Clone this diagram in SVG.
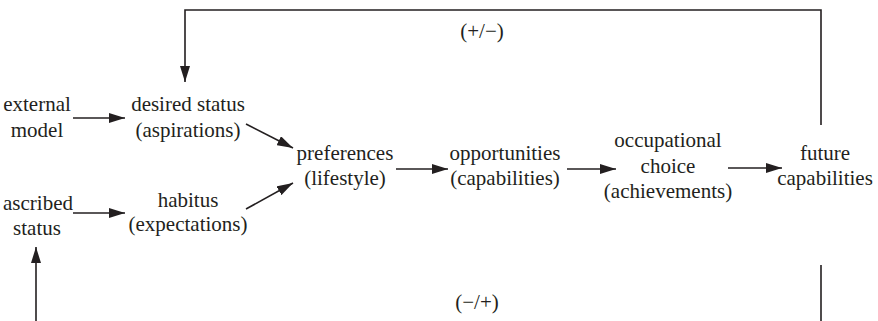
<svg xmlns="http://www.w3.org/2000/svg" width="878" height="321" viewBox="0 0 878 321">
<defs>
<marker id="ah" viewBox="0 0 16 10" refX="16" refY="5" markerWidth="16" markerHeight="10" markerUnits="userSpaceOnUse" orient="auto">
<path d="M0,0 L16,5 L0,10 Z" fill="#231f20"/>
</marker>
</defs>
<rect width="878" height="321" fill="#fff"/>
<g id="connectors" stroke="#231f20" stroke-width="1.6" fill="none">
<path d="M821,125 V10 H185 V82" marker-end="url(#ah)"/>
<path d="M821,265 V321"/>
<path d="M36,321 V247" marker-end="url(#ah)"/>
<path d="M73,118 H125" marker-end="url(#ah)"/>
<path d="M73,213 H125" marker-end="url(#ah)"/>
<path d="M246,124 L293,148" marker-end="url(#ah)"/>
<path d="M246,209 L293,183" marker-end="url(#ah)"/>
<path d="M396,169 H448" marker-end="url(#ah)"/>
<path d="M567,169 H616" marker-end="url(#ah)"/>
<path d="M728,168 H782" marker-end="url(#ah)"/>
</g>
<g id="labels" fill="#231f20" text-anchor="middle">
<text x="482" y="38" font-family="Liberation Serif" font-size="21" style="font-family:'Liberation Serif'!important">(+/−)</text>
<text x="477" y="309" font-family="Liberation Serif" font-size="21" style="font-family:'Liberation Serif'!important">(−/+)</text>
</g>
<g id="external" fill="#231f20" text-anchor="middle"><text x="37" y="111" font-family="Liberation Serif" font-size="21" style="font-family:'Liberation Serif'!important">external</text><text x="37" y="137" font-family="Liberation Serif" font-size="21" style="font-family:'Liberation Serif'!important">model</text></g>
<g id="desired" fill="#231f20" text-anchor="middle"><text x="188" y="111" font-family="Liberation Serif" font-size="21" style="font-family:'Liberation Serif'!important">desired status</text><text x="188" y="137" font-family="Liberation Serif" font-size="21" style="font-family:'Liberation Serif'!important">(aspirations)</text></g>
<g id="ascribed" fill="#231f20" text-anchor="middle"><text x="38" y="210" font-family="Liberation Serif" font-size="21" style="font-family:'Liberation Serif'!important">ascribed</text><text x="37" y="235" font-family="Liberation Serif" font-size="21" style="font-family:'Liberation Serif'!important">status</text></g>
<g id="habitus" fill="#231f20" text-anchor="middle"><text x="188" y="207" font-family="Liberation Serif" font-size="21" style="font-family:'Liberation Serif'!important">habitus</text><text x="188" y="231" font-family="Liberation Serif" font-size="21" style="font-family:'Liberation Serif'!important">(expectations)</text></g>
<g id="preferences" fill="#231f20" text-anchor="middle"><text x="345" y="160" font-family="Liberation Serif" font-size="21" style="font-family:'Liberation Serif'!important">preferences</text><text x="345" y="185" font-family="Liberation Serif" font-size="21" style="font-family:'Liberation Serif'!important">(lifestyle)</text></g>
<g id="opportunities" fill="#231f20" text-anchor="middle"><text x="505" y="160" font-family="Liberation Serif" font-size="21" style="font-family:'Liberation Serif'!important">opportunities</text><text x="505" y="185" font-family="Liberation Serif" font-size="21" style="font-family:'Liberation Serif'!important">(capabilities)</text></g>
<g id="occupational" fill="#231f20" text-anchor="middle"><text x="668" y="147" font-family="Liberation Serif" font-size="21" style="font-family:'Liberation Serif'!important">occupational</text><text x="668" y="173" font-family="Liberation Serif" font-size="21" style="font-family:'Liberation Serif'!important">choice</text><text x="668" y="198" font-family="Liberation Serif" font-size="21" style="font-family:'Liberation Serif'!important">(achievements)</text></g>
<g id="future" fill="#231f20" text-anchor="middle"><text x="825" y="160" font-family="Liberation Serif" font-size="21" style="font-family:'Liberation Serif'!important">future</text><text x="825" y="185" font-family="Liberation Serif" font-size="21" style="font-family:'Liberation Serif'!important">capabilities</text></g>
</svg>
